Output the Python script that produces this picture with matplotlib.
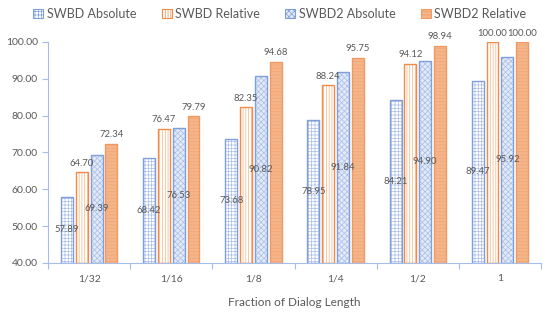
import numpy as np
import matplotlib
matplotlib.use('Agg')
import matplotlib.pyplot as plt

# data
categories = ['1/32', '1/16', '1/8', '1/4', '1/2', '1']
swbd_abs = [57.89, 68.42, 73.68, 78.95, 84.21, 89.47]
swbd_rel = [64.70, 76.47, 82.35, 88.24, 94.12, 100.00]
swbd2_abs = [69.39, 76.53, 90.82, 91.84, 94.90, 95.92]
swbd2_rel = [72.34, 79.79, 94.68, 95.75, 98.94, 100.00]
series_names = ['SWBD Absolute', 'SWBD Relative', 'SWBD2 Absolute', 'SWBD2 Relative']

plt.rcParams['font.family'] = ['Lato', 'DejaVu Sans']
plt.rcParams['hatch.linewidth'] = 0.5

fig = plt.figure(figsize=(5.6, 3.23), dpi=100)
ax = fig.add_axes([0.086, 0.186, 0.880, 0.684])

x = np.arange(len(categories))
w = 0.145
pitch = 0.18
blue = '#7F9FDB'
orange = '#F08C4A'

# face, outline, hatch colour, hatch
styles = [
    ('white', blue, '#A9BEE8', '+++++'),
    ('white', orange, '#F5B07F', '||||||'),
    ('#E3EAF7', blue, '#A9BEE8', 'xxxxxx'),
    ('#F5B58A', '#EE9A62', '#F2A575', '-----'),
]
all_vals = [swbd_abs, swbd_rel, swbd2_abs, swbd2_rel]
lab_col = '#595959'

for i, (vals, st) in enumerate(zip(all_vals, styles)):
    face, edge, hcol, hatch = st
    xs = x + (i - 1.5) * pitch
    h = np.array(vals) - 40
    # hatch layer (hatch colour follows edgecolor), then outline on top
    ax.bar(xs, h, bottom=40, width=w, facecolor=face, edgecolor=hcol,
           hatch=hatch, linewidth=0)
    bars = ax.bar(xs, h, bottom=40, width=w, facecolor='none', edgecolor=edge,
                  linewidth=1.0)
    # proxy for the legend
    ax.bar([0], [0], bottom=40, width=0, facecolor=face, edgecolor=edge,
           hatch=hatch, linewidth=0.8, label=series_names[i])
    for b, v in zip(bars, vals):
        cx = b.get_x() + b.get_width() / 2
        if i in (0, 2):
            ax.text(cx, (40 + v) / 2, '%.2f' % v, ha='center', va='center',
                    fontsize=6.8, color=lab_col, clip_on=False)
        else:
            ax.text(cx, v + 1.2, '%.2f' % v, ha='center', va='bottom',
                    fontsize=6.8, color=lab_col, clip_on=False)

ax.set_xlim(-0.5, len(categories) - 0.5)
ax.set_ylim(40, 100)
ax.set_yticks(np.arange(40, 101, 10))
ax.set_yticklabels(['%.2f' % t for t in np.arange(40, 101, 10)])
ax.set_xticks(x)
ax.set_xticklabels(categories)
ax.set_xticks(np.arange(-0.5, len(categories), 1), minor=True)
ax.tick_params(axis='x', which='major', length=0, pad=8, labelsize=7.5, labelcolor=lab_col)
ax.tick_params(axis='x', which='minor', length=4, color='#A6BDE8', width=0.8)
ax.tick_params(axis='y', length=4, color='#A6BDE8', width=0.8, labelsize=7.5, labelcolor=lab_col)

for s in ['top', 'right']:
    ax.spines[s].set_visible(False)
for s in ['left', 'bottom']:
    ax.spines[s].set_color('#A6BDE8')
    ax.spines[s].set_linewidth(0.8)

ax.set_xlabel('Fraction of Dialog Length', fontsize=8.5, color=lab_col, labelpad=10)

fig.legend(loc='upper center', bbox_to_anchor=(0.5, 1.01), ncol=4, frameon=False,
           fontsize=9, handlelength=0.8, handleheight=0.8, columnspacing=2.0,
           handletextpad=0.3, labelcolor=lab_col)

fig.savefig('out.png', dpi=100)
